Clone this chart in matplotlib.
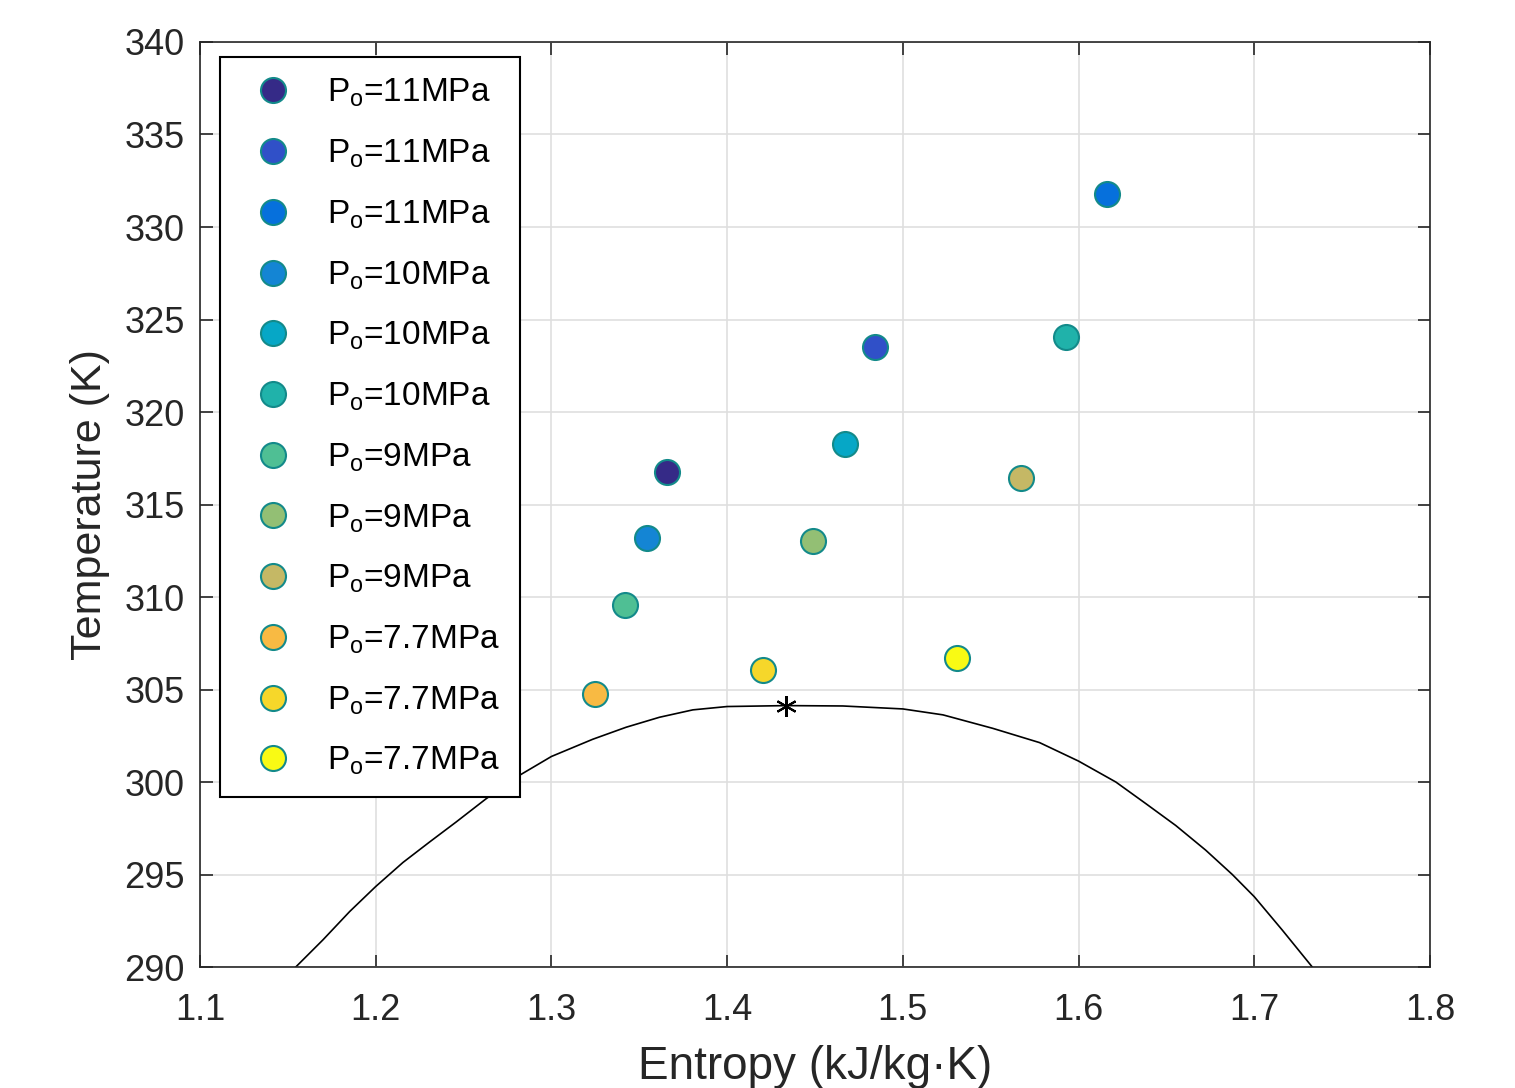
import matplotlib
matplotlib.use("Agg")
import matplotlib.pyplot as plt

plt.rcParams['font.family'] = ['Liberation Sans', 'DejaVu Sans']
plt.rcParams['mathtext.fontset'] = 'custom'
plt.rcParams['mathtext.rm'] = 'Liberation Sans'
plt.rcParams['mathtext.it'] = 'Liberation Sans'

# state points (entropy kJ/kg.K, temperature K)
s_pts = [1.3658, 1.4842, 1.6162, 1.3544, 1.4671, 1.5929,
         1.3419, 1.4489, 1.5673, 1.3248, 1.4204, 1.5308]
T_pts = [316.76, 323.51, 331.78, 313.19, 318.27, 324.05,
         309.57, 313.03, 316.43, 304.76, 306.05, 306.70]
labels = ['11MPa', '11MPa', '11MPa', '10MPa', '10MPa', '10MPa',
          '9MPa', '9MPa', '9MPa', '7.7MPa', '7.7MPa', '7.7MPa']
colors = ['#352a87', '#3050c8', '#0670dc', '#1485d4', '#06a7c6', '#20b2aa',
          '#4fbf94', '#93bf74', '#c5b865', '#f8ba43', '#f6d72a', '#f9fa14']

# saturation dome of CO2
sat_s = [1.1545, 1.17, 1.1852, 1.2, 1.2155, 1.2307, 1.2458, 1.2629, 1.2818, 1.3,
         1.3235, 1.3425, 1.3615, 1.3805, 1.4, 1.4336, 1.4658, 1.5, 1.5228, 1.5512,
         1.5778, 1.6, 1.6212, 1.6383, 1.6553, 1.6723, 1.6875, 1.7, 1.7159, 1.733]
sat_T = [290.0, 291.47, 293.0, 294.35, 295.65, 296.76, 297.84, 299.1, 300.36, 301.38,
         302.31, 302.96, 303.5, 303.9, 304.08, 304.13, 304.11, 303.95, 303.63, 302.9,
         302.13, 301.13, 300.0, 298.83, 297.65, 296.32, 295.0, 293.8, 292.0, 290.0]
crit_s, crit_T = 1.4336, 304.13

fig = plt.figure(figsize=(15.15, 10.88), dpi=100)
ax = fig.add_axes([0.132, 0.1112, 0.8119, 0.8502])

for s, T, lab, c in zip(s_pts, T_pts, labels, colors):
    ax.plot(s, T, 'o', ms=18, mfc=c, mec='#138a8a', mew=1.5,
            label=r'P$_{\mathrm{o}}$=' + lab)
ax.plot(sat_s, sat_T, color='black', lw=1.2, zorder=1)
ax.plot(crit_s, crit_T, marker=(6, 2, 0), ms=15, mew=1.5, color='black', ls='none')

ax.set_xlim(1.1, 1.8)
ax.set_ylim(290, 340)
ax.set_xticks([1.1, 1.2, 1.3, 1.4, 1.5, 1.6, 1.7, 1.8])
ax.set_xticklabels(['1.1', '1.2', '1.3', '1.4', '1.5', '1.6', '1.7', '1.8'])
ax.set_yticks(range(290, 341, 5))
ax.grid(True, color='#dfdfdf', lw=1.2)
ax.set_axisbelow(True)
ax.tick_params(direction='in', length=9, width=1.2, labelsize=26, colors='#262626',
               top=True, right=True)
ax.tick_params(axis='x', pad=19)
ax.tick_params(axis='y', pad=11)
for sp in ax.spines.values():
    sp.set_color('#262626')
    sp.set_linewidth(1.2)

ax.set_xlabel('Entropy (kJ/kg·K)', fontsize=33, color='#262626', labelpad=12)
ax.set_ylabel('Temperature (K)', fontsize=31, color='#262626', labelpad=10)

leg = ax.legend(loc='upper left', bbox_to_anchor=(0.0163, 0.9838), borderaxespad=0,
                fontsize=24, frameon=True, fancybox=False, edgecolor='black',
                borderpad=0.6, handlelength=2.0, handletextpad=0.6, labelspacing=0.85,
                numpoints=1)
leg.get_frame().set_linewidth(1.5)
leg.get_frame().set_alpha(1)

fig.savefig('out.png', dpi=100)
